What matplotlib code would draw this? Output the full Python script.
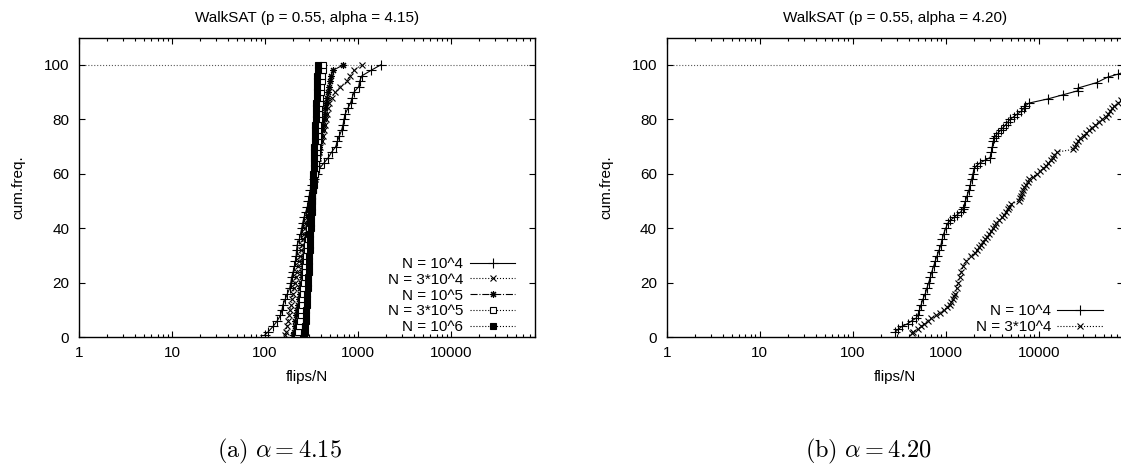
import matplotlib
matplotlib.use('Agg')
import matplotlib.pyplot as plt
from matplotlib.ticker import FixedLocator, LogLocator, NullFormatter

plt.rcParams['font.family'] = ['Liberation Sans', 'DejaVu Sans']
plt.rcParams['mathtext.fontset'] = 'cm'

# ---- panel (a): alpha = 4.15, cumulative frequency (%) vs flips/N ----
cum_a = [1, 2, 4, 6, 8, 10, 12, 14, 16, 18, 20, 22, 24, 26, 28, 30, 32, 34, 36, 38,
         40, 42, 44, 46, 48, 50, 52, 54, 56, 58, 60, 62, 64, 66, 68, 70, 72, 74, 76, 78,
         80, 82, 84, 86, 88, 90, 92, 94, 96, 98, 100]

flips_a_1e4 = [100, 108, 122, 135, 146, 152, 156, 165, 174, 184, 189, 193, 200, 207, 212, 216, 218, 222, 234, 241,
               247, 254, 262, 274, 285, 292, 299, 308, 320, 333, 360, 385, 430, 480, 520, 575, 600, 630, 665, 690,
               705, 728, 775, 830, 865, 905, 1015, 1040, 1100, 1380, 1750]
flips_a_3e4 = [164, 167, 172, 177, 181, 186, 192, 196, 201, 205, 210, 216, 222, 228, 234, 239, 245, 251, 257, 264,
               271, 278, 286, 294, 302, 310, 318, 326, 335, 342, 348, 356, 363, 371, 380, 393, 406, 415, 426, 438,
               447, 458, 470, 485, 520, 570, 640, 760, 815, 900, 1100]
flips_a_1e5 = [201, 204, 208, 212, 217, 221, 226, 231, 235, 239, 243, 247, 251, 255, 259, 264, 268, 273, 278, 282,
               287, 292, 297, 303, 308, 313, 320, 327, 333, 341, 348, 355, 362, 369, 376, 383, 391, 400, 409, 419,
               428, 436, 444, 453, 462, 475, 488, 501, 515, 540, 690]
flips_a_3e5 = [222, 226, 232, 237, 241, 245, 249, 252, 256, 259, 262, 266, 269, 272, 276, 279, 283, 286, 290, 294,
               298, 302, 306, 310, 314, 318, 322, 327, 332, 338, 345, 352, 356, 359, 362, 365, 368, 370, 372, 374,
               376, 379, 382, 386, 390, 395, 400, 405, 410, 416, 424]
flips_a_1e6 = [262, 266, 270, 273, 276, 279, 281, 284, 286, 288, 290, 292, 294, 296, 298, 300, 302, 304, 306, 308,
               310, 312, 314, 316, 318, 320, 322, 324, 326, 328, 330, 332, 334, 336, 338, 340, 342, 344, 346, 348,
               350, 352, 354, 356, 358, 360, 362, 364, 366, 368, 372]

# ---- panel (b): alpha = 4.20 ----
cum_b_1e4 = [2, 3, 4, 5, 6, 7, 8, 10, 12, 14, 16, 18, 20, 22, 24, 26, 28, 30, 32, 34,
             36, 38, 40, 42, 43, 44, 45, 46, 47, 48, 50, 52, 54, 56, 58, 60, 62, 63, 64, 65,
             66, 68, 70, 72, 73, 74, 75, 76, 77, 78, 79, 80, 81, 82, 83, 84, 85, 86, 87.5, 89,
             90.5, 91.5, 93.5, 95.5, 96.6, 98]
flips_b_1e4 = [288, 310, 339, 390, 430, 480, 500, 522, 545, 570, 603, 628, 655, 685, 708, 740, 772, 810, 850, 890,
               918, 952, 1000, 1060, 1125, 1230, 1330, 1450, 1520, 1570, 1630, 1700, 1780, 1840, 1900, 1960, 2030, 2150, 2330, 2650,
               3000, 3100, 3170, 3250, 3320, 3450, 3650, 3900, 4150, 4400, 4650, 4900, 5400, 5900, 6500, 6900, 7200, 7900, 12500, 18100,
               26300, 26400, 42000, 55000, 71000, 95000]

cum_b_3e4 = [1.5, 2, 3, 4, 5, 6, 7, 8, 9, 10, 11, 12, 13, 14, 15, 16, 18, 20, 22, 24,
             26, 28, 30, 31, 32, 33, 34, 35, 36, 37, 38, 39, 40, 41, 42, 43, 44, 45, 46, 47,
             48, 49, 50, 51, 52, 53, 54, 55, 56, 57, 58, 59, 60, 61, 62, 63, 64, 65, 66, 67,
             68, 69, 70, 71, 72, 73, 74, 75, 76, 77, 78, 79, 80, 81, 82, 83, 84, 85, 86, 87, 88]
flips_b_3e4 = [435, 450, 500, 540, 590, 640, 700, 790, 870, 950, 1030, 1100, 1150, 1200, 1240, 1275, 1320, 1365, 1410, 1470,
               1540, 1640, 1850, 2050, 2180, 2280, 2380, 2500, 2620, 2750, 2920, 3080, 3220, 3350, 3480, 3750, 4050, 4250, 4450, 4650,
               4800, 5100, 6100, 6250, 6400, 6550, 6700, 7000, 7350, 7650, 7950, 8700, 9600, 10300, 11100, 11900, 12700, 13400, 14100, 14700,
               15800, 23500, 24500, 25500, 26300, 28000, 30500, 32500, 35000, 37500, 40500, 44000, 48000, 53000, 56000, 59000, 62000, 65000, 71000, 76000, 88000]

xtick_vals = [1, 10, 100, 1000, 10000]
xtick_labels = ['1', '10', '100', '1000', '10000']
ytick_vals = [0, 20, 40, 60, 80, 100]

fs = 11

fig = plt.figure(figsize=(11.21, 4.68), dpi=100)
ax_a = fig.add_axes([0.0705, 0.2793, 0.4068, 0.6402])
ax_b = fig.add_axes([0.5947, 0.2793, 0.4068, 0.6402])

kw = dict(color='black', lw=0.8)
ax_a.plot(flips_a_1e4, cum_a, ls='-', marker='+', ms=6.5, mew=0.8, label='N = 10^4', **kw)
ax_a.plot(flips_a_3e4, cum_a, ls=':', marker='x', ms=4.5, mew=0.8, label='N = 3*10^4', **kw)
ax_a.plot(flips_a_1e5, cum_a, ls='-.', marker=(8, 2, 0), ms=5, mew=0.8, label='N = 10^5', **kw)
ax_a.plot(flips_a_3e5, cum_a, ls=':', marker='s', ms=4, mew=0.8, mfc='white', label='N = 3*10^5', **kw)
ax_a.plot(flips_a_1e6, cum_a, ls=':', marker='s', ms=4.5, mew=0.8, mfc='black', label='N = 10^6', **kw)

ax_b.plot(flips_b_1e4, cum_b_1e4, ls='-', marker='+', ms=6.5, mew=0.8, label='N = 10^4', **kw)
ax_b.plot(flips_b_3e4, cum_b_3e4, ls=':', marker='x', ms=4.5, mew=0.8, label='N = 3*10^4', **kw)

titles = ['WalkSAT (p = 0.55, alpha = 4.15)', 'WalkSAT (p = 0.55, alpha = 4.20)']
for ax, title in zip([ax_a, ax_b], titles):
    ax.axhline(100, ls=':', lw=0.8, color='0.35', zorder=0)
    ax.set_xscale('log')
    ax.set_xlim(1, 80000)
    ax.set_ylim(0, 110)
    ax.xaxis.set_major_locator(FixedLocator(xtick_vals))
    ax.set_xticklabels(xtick_labels)
    ax.xaxis.set_minor_locator(LogLocator(base=10, subs=range(2, 10), numticks=20))
    ax.xaxis.set_minor_formatter(NullFormatter())
    ax.set_yticks(ytick_vals)
    ax.tick_params(which='both', direction='in', top=True, right=True, width=0.8, labelsize=fs)
    ax.tick_params(which='major', length=4.5)
    ax.tick_params(which='minor', length=2.5)
    ax.tick_params(axis='y', pad=7)
    ax.tick_params(axis='x', pad=6)
    for sp in ax.spines.values():
        sp.set_linewidth(1.0)
    ax.set_title(title, fontsize=fs, pad=11)
    ax.set_xlabel('flips/N', fontsize=fs, va='center')
    ax.xaxis.set_label_coords(0.5, -0.1315)
    ax.set_ylabel('cum.freq.', fontsize=fs, va='center')
    ax.yaxis.set_label_coords(-0.133, 0.5)
    ax.legend(loc='lower right', bbox_to_anchor=(0.957, 0.01), frameon=False, markerfirst=False,
              fontsize=fs, handlelength=3.0, handletextpad=0.4, labelspacing=0.12,
              borderpad=0, borderaxespad=0)

fig.text(0.2495, 0.0348, r'$\mathrm{(a)}\ \alpha = 4.15$', fontsize=17.5, ha='center', va='center')
fig.text(0.7749, 0.0348, r'$\mathrm{(b)}\ \alpha = 4.20$', fontsize=17.5, ha='center', va='center')

fig.savefig('out.png', dpi=100)
